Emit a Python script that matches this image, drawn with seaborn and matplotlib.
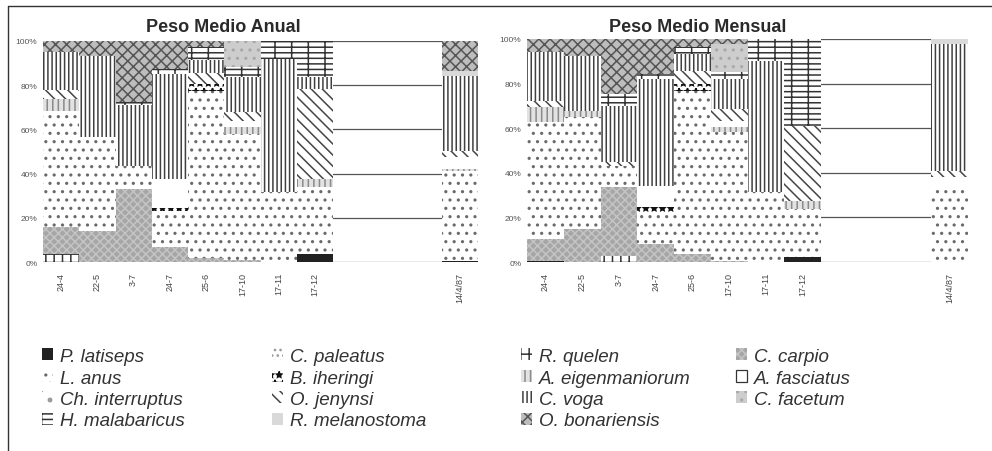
import numpy as np
import pandas as pd
import matplotlib
matplotlib.use("Agg")
import matplotlib.pyplot as plt
import seaborn as sns
from matplotlib.patches import Patch
from matplotlib.lines import Line2D

# ---------------- data ----------------
slots = ["24-4", "22-5", "3-7", "24-7", "25-6", "17-10", "17-11", "17-12",
         "s1", "s2", "s3", "14/4/87"]
tick_labels = ["24-4", "22-5", "3-7", "24-7", "25-6", "17-10", "17-11", "17-12",
               "", "", "", "14/4/87"]
y_ticks = [0, 20, 40, 60, 80, 100]
y_tick_labels = ["0%", "20%", "40%", "60%", "80%", "100%"]
titles = ["Peso Medio Anual", "Peso Medio Mensual"]

# Peso Medio Anual (% of each sample)
anual_latiseps  = [0, 0, 0, 0, 0, 0, 0, 3.6, 0, 0, 0, 0.6]
anual_quelen    = [3.6, 0, 0, 0, 0, 0, 0, 0, 0, 0, 0, 0]
anual_carpio    = [12.2, 14, 33, 7, 2, 1, 0, 0, 0, 0, 0, 0]
anual_anus      = [52.5, 42.6, 10.4, 16, 75.5, 57, 31.7, 30.4, 0, 0, 0, 40.4]
anual_iheringi  = [0, 0, 0, 1.5, 3, 0, 0, 0, 0, 0, 0, 0]
anual_eigen     = [5.5, 0, 0, 0, 0, 3, 0, 3.5, 0, 0, 0, 1]
anual_fasciatus = [0, 0, 0, 13, 0, 2.8, 0, 0, 0, 0, 0, 5.5]
anual_jenynsi   = [4.2, 0, 0, 0, 4.8, 4.2, 0, 40.8, 0, 0, 0, 2.7]
anual_voga      = [17, 36.6, 27.6, 47.5, 6, 15.7, 60.3, 5.3, 0, 0, 0, 33.8]
anual_melan     = [0, 0, 0, 0, 0, 0, 0, 0, 0, 0, 0, 2.4]
anual_malab     = [0, 0, 1.4, 2.5, 6, 4.5, 8, 16.4, 0, 0, 0, 0]
anual_facetum   = [0, 0, 0, 0, 0, 11.8, 0, 0, 0, 0, 0, 0]
anual_bonar     = [5, 6.8, 27.6, 12.5, 2.7, 0, 0, 0, 0, 0, 0, 13.6]

# Peso Medio Mensual (% of each sample)
mens_latiseps  = [0.5, 0, 0, 0, 0, 0, 0, 2.1, 0, 0, 0, 0]
mens_quelen    = [0, 0, 2.8, 0, 0, 0, 0, 0, 0, 0, 0, 0]
mens_carpio    = [9.8, 14.8, 30.7, 8, 3.6, 0.6, 0, 0, 0, 0, 0, 0]
mens_anus      = [52.3, 50.1, 9.5, 14.3, 73.2, 57.7, 31.3, 21.7, 0, 0, 0, 32.7]
mens_iheringi  = [0, 0, 0, 2.2, 3, 0, 0, 0, 0, 0, 0, 0]
mens_eigen     = [6.8, 2.9, 0, 0, 0, 2.2, 0, 3.7, 0, 0, 0, 0]
mens_fasciatus = [0, 0, 0, 9.7, 0, 2.9, 0, 0, 0, 0, 0, 5.3]
mens_jenynsi   = [2.6, 0, 1.7, 0, 6, 5.2, 0, 33.6, 0, 0, 0, 3]
mens_voga      = [22, 24.7, 25.4, 47.8, 7.5, 13.4, 59, 0, 0, 0, 0, 56.8]
mens_melan     = [0, 0, 0, 0, 0, 0, 0, 0, 0, 0, 0, 2.2]
mens_malab     = [0, 0, 5.2, 2.3, 3, 3.2, 9.7, 38.9, 0, 0, 0, 0]
mens_facetum   = [0, 0, 0, 0, 0, 12.6, 0, 0, 0, 0, 0, 0]
mens_bonar     = [6, 7.5, 24.7, 15.7, 3.7, 2.2, 0, 0, 0, 0, 0, 0]

stack_order = ["P. latiseps", "R. quelen", "C. carpio", "L. anus", "B. iheringi",
               "A. eigenmaniorum", "A. fasciatus", "O. jenynsi", "C. voga",
               "R. melanostoma", "H. malabaricus", "C. facetum", "O. bonariensis"]

anual = dict(zip(stack_order, [anual_latiseps, anual_quelen, anual_carpio, anual_anus,
                               anual_iheringi, anual_eigen, anual_fasciatus, anual_jenynsi,
                               anual_voga, anual_melan, anual_malab, anual_facetum, anual_bonar]))
mensual = dict(zip(stack_order, [mens_latiseps, mens_quelen, mens_carpio, mens_anus,
                                 mens_iheringi, mens_eigen, mens_fasciatus, mens_jenynsi,
                                 mens_voga, mens_melan, mens_malab, mens_facetum, mens_bonar]))

legend_cols = [
    ["P. latiseps", "L. anus", "Ch. interruptus", "H. malabaricus"],
    ["C. paleatus", "B. iheringi", "O. jenynsi", "R. melanostoma"],
    ["R. quelen", "A. eigenmaniorum", "C. voga", "O. bonariensis"],
    ["C. carpio", "A. fasciatus", "C. facetum"],
]

# ---------------- styles ----------------
styles = {
    "P. latiseps":      dict(fc="#222222", hatch=None,      ec="#222222"),
    "R. quelen":        dict(fc="white",   hatch="++",      ec="#333333"),
    "C. carpio":        dict(fc="#a6a6a6", hatch="xxxx",    ec="#c4c4c4"),
    "L. anus":          dict(fc="white",   hatch="..",      ec="#6a6a6a"),
    "B. iheringi":      dict(fc="white",   hatch="**",      ec="#111111"),
    "A. eigenmaniorum": dict(fc="#e2e2e2", hatch="|||",     ec="#8a8a8a"),
    "A. fasciatus":     dict(fc="white",   hatch=None,      ec="#333333"),
    "O. jenynsi":       dict(fc="white",   hatch="\\" * 3,  ec="#454545"),
    "C. voga":          dict(fc="white",   hatch="||||",    ec="#404040"),
    "R. melanostoma":   dict(fc="#d9d9d9", hatch=None,      ec="#d9d9d9"),
    "H. malabaricus":   dict(fc="white",   hatch="--+",     ec="#333333"),
    "C. facetum":       dict(fc="#cdcdcd", hatch="..",      ec="#a8a8a8"),
    "O. bonariensis":   dict(fc="#bdbdbd", hatch="xxx",     ec="#555555"),
    "Ch. interruptus":  dict(fc="white",   hatch="x.",      ec="#9a9a9a"),
    "C. paleatus":      dict(fc="white",   hatch="...",     ec="#9a9a9a"),
}

sns.set_theme(style="white")
plt.rcParams["font.family"] = ["Liberation Sans", "DejaVu Sans"]
plt.rcParams["hatch.linewidth"] = 1.1

fig = plt.figure(figsize=(9.92, 4.52), dpi=100)
fig.patch.set_facecolor("white")

axes_rects = [
    [43 / 992, (452 - 263) / 452, 435 / 992, 221 / 452],
    [527 / 992, (452 - 263) / 452, 441 / 992, 223 / 452],
]
title_x = [223 / 992, 698 / 992]


def draw_panel(ax, data):
    cum = np.cumsum(np.array([data[s] for s in stack_order], dtype=float), axis=0)
    for k in range(len(stack_order) - 1, -1, -1):
        sp = stack_order[k]
        st = styles[sp]
        df = pd.DataFrame({"slot": slots, "value": cum[k]})
        kw = dict(edgecolor=st["ec"], linewidth=0)
        if st["hatch"]:
            kw["hatch"] = st["hatch"]
        sns.barplot(data=df, x="slot", y="value", order=slots, ax=ax,
                    color=st["fc"], saturation=1, width=1.0, errorbar=None, **kw)
    ax.set_xlim(-0.5, len(slots) - 0.5)
    ax.set_ylim(0, 100)
    ax.set_yticks(y_ticks)
    ax.set_yticklabels(y_tick_labels, fontsize=6, color="#555555")
    ax.set_xticks(range(len(slots)))
    ax.set_xticklabels(tick_labels, rotation=90, fontsize=6.5, color="#444444")
    ax.tick_params(axis="x", length=0, pad=7)
    ax.tick_params(axis="y", length=0, pad=4)
    ax.set_xlabel("")
    ax.set_ylabel("")
    for s in ax.spines.values():
        s.set_visible(False)
    ax.yaxis.grid(True, color="#555555", linewidth=0.9)
    ax.set_axisbelow(True)
    ax.set_facecolor("none")


for rect, data, ttl, tx in zip(axes_rects, [anual, mensual], titles, title_x):
    ax = fig.add_axes(rect)
    draw_panel(ax, data)
    fig.text(tx, 1 - 27 / 452, ttl, ha="center", va="center",
             fontsize=13, fontweight="bold", color="#2a2a2a")

# legend (4 columns)
leg_x = [42 / 992, 272 / 992, 521 / 992, 736 / 992]
for col, lx in zip(legend_cols, leg_x):
    handles = []
    for name in col:
        st = styles[name]
        lw = 0.9 if name == "A. fasciatus" else 0
        handles.append(Patch(facecolor=st["fc"], edgecolor=st["ec"],
                             hatch=st["hatch"], linewidth=lw, label=name))
    fig.legend(handles=handles, loc="upper left", bbox_to_anchor=(lx, 1 - 349 / 452),
               frameon=False, borderpad=0, borderaxespad=0,
               handlelength=0.6, handleheight=0.6, handletextpad=0.35,
               labelspacing=0.24,
               prop=dict(family="Liberation Sans", style="italic", size=13.5),
               labelcolor="#333333")

# outer frame (left and top edges)
fig.add_artist(Line2D([8 / 992, 8 / 992], [0, 1 - 7 / 452], color="#333333", lw=1))
fig.add_artist(Line2D([8 / 992, 1], [1 - 7 / 452, 1 - 7 / 452], color="#333333", lw=1))

fig.savefig("out.png", dpi=100, facecolor="white")
